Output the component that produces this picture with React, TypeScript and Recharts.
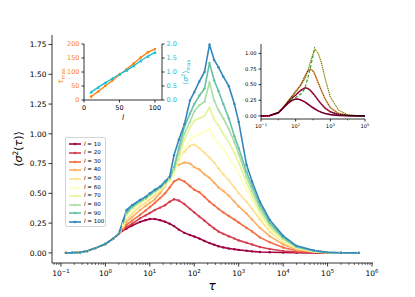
import { LineChart, Line, XAxis, YAxis, Legend } from "recharts";

const FONT = "'DejaVu Sans', sans-serif";

// main plot: <sigma^2(tau)> for each l
const tau = [0.13, 0.18, 0.27, 0.39, 0.6, 1, 1.5, 2, 2.5, 3, 4, 6, 8, 10, 13, 17, 22, 28, 35, 45, 60, 80, 100, 130, 170, 220, 280, 350, 450, 600, 800, 1000, 1500, 2000, 3000, 5000, 10000, 20000, 50000, 100000, 200000, 500000];

const sig10 = [0, 0.001, 0.004, 0.015, 0.04, 0.075, 0.12, 0.16, 0.19, 0.205, 0.23, 0.26, 0.275, 0.285, 0.284, 0.275, 0.262, 0.245, 0.225, 0.195, 0.168, 0.15, 0.137, 0.12, 0.1, 0.082, 0.068, 0.056, 0.046, 0.037, 0.03, 0.025, 0.018, 0.013, 0.008, 0.005, 0.003, 0.001, 0, 0, 0, 0];
const sig20 = [0, 0.001, 0.004, 0.015, 0.04, 0.075, 0.12, 0.16, 0.195, 0.215, 0.245, 0.29, 0.315, 0.335, 0.36, 0.38, 0.4, 0.43, 0.45, 0.44, 0.41, 0.37, 0.34, 0.305, 0.27, 0.235, 0.205, 0.18, 0.16, 0.14, 0.12, 0.105, 0.085, 0.07, 0.05, 0.032, 0.016, 0.006, 0.002, 0.001, 0, 0];
const sig30 = [0, 0.001, 0.004, 0.015, 0.04, 0.075, 0.12, 0.16, 0.2, 0.235, 0.27, 0.32, 0.355, 0.385, 0.42, 0.46, 0.5, 0.55, 0.6, 0.62, 0.6, 0.56, 0.53, 0.51, 0.47, 0.43, 0.4, 0.37, 0.34, 0.31, 0.28, 0.255, 0.21, 0.18, 0.13, 0.09, 0.045, 0.018, 0.005, 0.001, 0, 0];
const sig40 = [0, 0.001, 0.004, 0.015, 0.04, 0.075, 0.12, 0.16, 0.21, 0.26, 0.3, 0.36, 0.395, 0.42, 0.45, 0.5, 0.56, 0.63, 0.7, 0.74, 0.76, 0.75, 0.72, 0.7, 0.66, 0.63, 0.59, 0.55, 0.52, 0.48, 0.43, 0.39, 0.33, 0.28, 0.21, 0.14, 0.07, 0.028, 0.008, 0.002, 0.001, 0];
const sig50 = [0, 0.001, 0.004, 0.015, 0.04, 0.075, 0.12, 0.16, 0.22, 0.28, 0.33, 0.39, 0.42, 0.45, 0.48, 0.52, 0.56, 0.62, 0.7, 0.78, 0.85, 0.9, 0.91, 0.88, 0.84, 0.8, 0.76, 0.71, 0.66, 0.61, 0.55, 0.5, 0.43, 0.37, 0.28, 0.18, 0.09, 0.036, 0.01, 0.002, 0.001, 0];
const sig60 = [0, 0.001, 0.004, 0.015, 0.04, 0.075, 0.12, 0.16, 0.23, 0.3, 0.355, 0.41, 0.44, 0.47, 0.5, 0.53, 0.57, 0.6, 0.66, 0.76, 0.88, 0.95, 0.98, 1.0, 1.02, 1.04, 0.97, 0.92, 0.87, 0.8, 0.73, 0.67, 0.53, 0.44, 0.31, 0.195, 0.1, 0.04, 0.012, 0.003, 0.001, 0];
const sig70 = [0, 0.001, 0.004, 0.015, 0.04, 0.075, 0.12, 0.16, 0.24, 0.32, 0.37, 0.42, 0.45, 0.48, 0.51, 0.54, 0.575, 0.61, 0.68, 0.8, 0.95, 1.05, 1.11, 1.13, 1.15, 1.22, 1.12, 1.07, 1.0, 0.93, 0.84, 0.76, 0.59, 0.48, 0.34, 0.215, 0.11, 0.044, 0.013, 0.003, 0.001, 0];
const sig80 = [0, 0.001, 0.004, 0.015, 0.04, 0.075, 0.12, 0.16, 0.25, 0.33, 0.38, 0.43, 0.455, 0.485, 0.515, 0.545, 0.58, 0.62, 0.7, 0.84, 1.0, 1.1, 1.19, 1.24, 1.27, 1.43, 1.28, 1.2, 1.13, 1.04, 0.93, 0.83, 0.64, 0.52, 0.37, 0.235, 0.12, 0.048, 0.015, 0.003, 0.001, 0];
const sig90 = [0, 0.001, 0.004, 0.015, 0.04, 0.075, 0.12, 0.16, 0.26, 0.34, 0.39, 0.435, 0.46, 0.49, 0.52, 0.55, 0.59, 0.63, 0.72, 0.88, 1.06, 1.17, 1.25, 1.32, 1.38, 1.595, 1.45, 1.36, 1.25, 1.13, 0.98, 0.88, 0.68, 0.56, 0.4, 0.255, 0.13, 0.052, 0.017, 0.004, 0.001, 0];
const sig100 = [0, 0.001, 0.004, 0.015, 0.04, 0.075, 0.12, 0.16, 0.27, 0.36, 0.4, 0.445, 0.47, 0.5, 0.53, 0.557, 0.6, 0.64, 0.82, 0.95, 1.08, 1.28, 1.35, 1.44, 1.52, 1.75, 1.62, 1.56, 1.48, 1.4, 1.25, 1.1, 0.74, 0.6, 0.43, 0.277, 0.143, 0.059, 0.02, 0.004, 0.001, 0];

const lengths = [10, 20, 30, 40, 50, 60, 70, 80, 90, 100];
const colors = ["#9e0142", "#d53e4f", "#f46d43", "#fdae61", "#fee08b", "#ffffbf", "#e6f598", "#abdda4", "#66c2a5", "#3288bd"];
const allSeries = [sig10, sig20, sig30, sig40, sig50, sig60, sig70, sig80, sig90, sig100];

const mainYTicks = [0, 0.25, 0.5, 0.75, 1.0, 1.25, 1.5, 1.75];
const mainDecades = [0.1, 1, 10, 100, 1e3, 1e4, 1e5, 1e6];

// inset 1: tau_max and <sigma^2>_max against l
const tauMax = [12, 30, 50, 70, 90, 110, 130, 152, 170, 182];
const sigMax = [0.28, 0.45, 0.61, 0.77, 0.92, 1.06, 1.22, 1.4, 1.56, 1.7];
const tauMaxTicks = [0, 50, 100, 150, 200];
const sigMaxTicks = [0, 0.5, 1, 1.5, 2];
const lTicks = [0, 50, 100];

// inset 2: smooth curves with fits
const fitTau = [0.1, 0.3, 1, 2, 3, 5, 7, 10, 15, 20, 35, 50, 70, 100, 130, 200, 300, 500, 1000, 3000, 10000, 30000, 100000];
const fit10 = [0, 0.003, 0.05, 0.13, 0.18, 0.23, 0.255, 0.27, 0.265, 0.255, 0.22, 0.19, 0.16, 0.13, 0.11, 0.08, 0.058, 0.038, 0.02, 0.007, 0.002, 0.0005, 0];
const fit20 = [0, 0.003, 0.05, 0.135, 0.19, 0.26, 0.3, 0.33, 0.38, 0.41, 0.45, 0.44, 0.41, 0.36, 0.32, 0.25, 0.19, 0.125, 0.065, 0.02, 0.005, 0.001, 0];
const fit40 = [0, 0.003, 0.055, 0.14, 0.2, 0.28, 0.33, 0.38, 0.45, 0.5, 0.64, 0.72, 0.75, 0.72, 0.66, 0.53, 0.41, 0.27, 0.13, 0.04, 0.01, 0.002, 0];
const fit60 = [0, 0.003, 0.055, 0.14, 0.21, 0.29, 0.34, 0.4, 0.45, 0.49, 0.6, 0.72, 0.86, 0.99, 1.07, 1.0, 0.86, 0.6, 0.3, 0.09, 0.02, 0.005, 0.001];
const peakTau = [5, 10, 20, 33, 50, 75, 100, 125];
const peakVal = [0.26, 0.29, 0.35, 0.43, 0.6, 0.8, 0.96, 1.1];
const insetDecades = [0.1, 1, 10, 100, 1e3, 1e4, 1e5];
const insetLabelled = [0.1, 10, 1e3, 1e5];
const insetYTicks = [0, 0.25, 0.5, 0.75, 1.0];

const X_MIN = 0.063;
const X_MAX = 1.05e6;

const minorTicks: number[] = [];
[0.01, ...mainDecades].forEach((d) => {
  for (let m = 2; m <= 9; m++) {
    const v = d * m;
    if (v >= X_MIN && v <= X_MAX) minorTicks.push(v);
  }
});
const mainXTicks = [...mainDecades, ...minorTicks].sort((a, b) => a - b);

const rows = tau.map((t, i) => {
  const row: Record<string, number> = { tau: t };
  lengths.forEach((l, k) => {
    row[`l${l}`] = allSeries[k][i];
  });
  return row;
});

const insetRows = lengths.map((l, i) => ({ l, tauMax: tauMax[i], sigMax: sigMax[i] }));

const fitRows = fitTau.map((t, i) => ({ tau: t, f10: fit10[i], f20: fit20[i], f40: fit40[i], f60: fit60[i] }));
const peakRows = peakTau.map((t, i) => ({ tau: t, peak: peakVal[i] }));

function LogXTick(props: any) {
  const { x, y, payload, fs, len, labelled } = props;
  const v = payload.value;
  const e = Math.round(Math.log10(v));
  const hasLabel = labelled.some((d: number) => Math.abs(d - v) / d < 1e-9);
  return (
    <g>
      <line x1={x} x2={x} y1={y} y2={y + (hasLabel ? len : len * 0.55)} stroke="#000" strokeWidth={hasLabel ? 0.8 : 0.6} />
      {hasLabel && (
        <text x={x} y={y + len + fs * 1.25} textAnchor="middle" fontFamily={FONT} fontSize={fs} fill="#000">
          10
          <tspan dy={-fs * 0.45} fontSize={fs * 0.72}>
            {e < 0 ? "\u2212" + -e : String(e)}
          </tspan>
        </text>
      )}
    </g>
  );
}

function NumYTick(props: any) {
  const { x, y, payload, fs, len, digits, side, color } = props;
  const dir = side === "right" ? 1 : -1;
  return (
    <g>
      <line x1={x} x2={x + dir * len} y1={y} y2={y} stroke="#000" strokeWidth={0.8} />
      <text x={x + dir * (len + 2)} y={y + fs * 0.36} textAnchor={side === "right" ? "start" : "end"} fontFamily={FONT} fontSize={fs} fill={color}>
        {payload.value.toFixed(digits)}
      </text>
    </g>
  );
}

function NumXTick(props: any) {
  const { x, y, payload, fs, len } = props;
  return (
    <g>
      <line x1={x} x2={x} y1={y} y2={y + len} stroke="#000" strokeWidth={0.8} />
      <text x={x} y={y + len + fs * 1.1} textAnchor="middle" fontFamily={FONT} fontSize={fs} fill="#000">
        {payload.value}
      </text>
    </g>
  );
}

function Triangle(props: any) {
  const { cx, cy, fill } = props;
  if (cx == null || cy == null) return null;
  const s = 1.8;
  return <polygon points={`${cx},${cy - s} ${cx - s},${cy + s * 0.8} ${cx + s},${cy + s * 0.8}`} fill={fill} />;
}

function LegendBox(props: any) {
  const items = [...(props.payload || [])].sort((a: any, b: any) => Number(a.value) - Number(b.value));
  return (
    <div
      style={{
        width: 41,
        height: 90,
        boxSizing: "border-box",
        border: "0.8px solid #d4d4d4",
        borderRadius: 2,
        background: "rgba(255,255,255,0.85)",
        padding: "2px 0 0 3px",
        fontFamily: FONT,
        fontSize: 5.5,
        lineHeight: 1,
        color: "#000",
      }}
    >
      {items.map((p: any) => (
        <div key={p.value} style={{ height: 8.65, display: "flex", alignItems: "center" }}>
          <svg width={12} height={4} style={{ display: "block" }}>
            <line x1={0} x2={12} y1={2} y2={2} stroke={p.color} strokeWidth={1.6} />
            <circle cx={6} cy={2} r={1.3} fill={p.color} />
          </svg>
          <span style={{ marginLeft: 3, whiteSpace: "nowrap" }}>
            <i>l</i> = {p.value}
          </span>
        </div>
      ))}
    </div>
  );
}

const spine = { stroke: "#000", strokeWidth: 0.8 };

export default function App() {
  return (
    <div style={{ position: "relative", width: 415, height: 297, background: "#fff" }}>
      <style>{`body{margin:0;}`}</style>
      <LineChart width={415} height={297} data={rows} margin={{ top: 35, right: 42, bottom: 0, left: 0 }}>
        <XAxis
          dataKey="tau"
          type="number"
          scale="log"
          domain={[X_MIN, X_MAX]}
          allowDataOverflow
          ticks={mainXTicks}
          interval={0}
          tickSize={0}
          tickMargin={0}
          tickLine={false}
          height={34}
          axisLine={spine}
          tick={(p: any) => <LogXTick {...p} fs={7.5} len={3.5} labelled={mainDecades} />}
        />
        <XAxis xAxisId="top" orientation="top" dataKey="tau" type="number" scale="log" domain={[X_MIN, X_MAX]} allowDataOverflow height={0} tick={false} tickLine={false} axisLine={spine} />
        <YAxis
          type="number"
          domain={[-0.085, 1.83]}
          allowDataOverflow
          ticks={mainYTicks}
          interval={0}
          tickSize={0}
          tickMargin={0}
          tickLine={false}
          width={52}
          axisLine={spine}
          tick={(p: any) => <NumYTick {...p} fs={7.5} len={3.5} digits={2} side="left" color="#000" />}
        />
        <YAxis yAxisId="right" orientation="right" type="number" domain={[0, 1]} width={0} tick={false} tickLine={false} axisLine={spine} />
        {lengths.map((l, k) => (
          <Line
            key={l}
            dataKey={`l${l}`}
            name={String(l)}
            stroke={colors[k]}
            strokeWidth={1.6}
            dot={{ r: 1.2, fill: colors[k], stroke: "none" }}
            isAnimationActive={false}
          />
        ))}
        <Legend layout="vertical" align="center" verticalAlign="middle" wrapperStyle={{ left: 65, top: 137, width: 41, height: 90 }} content={(p: any) => <LegendBox {...p} />} />
      </LineChart>

      <div style={{ position: "absolute", left: 40, top: 30 }}>
        <LineChart width={170} height={100} data={insetRows} margin={{ top: 14, right: 20, bottom: 8, left: 16 }}>
          <XAxis
            dataKey="l"
            type="number"
            domain={[0, 110]}
            ticks={lTicks}
            interval={0}
            tickSize={0}
            tickMargin={0}
            tickLine={false}
            height={22}
            axisLine={spine}
            tick={(p: any) => <NumXTick {...p} fs={6.5} len={2.5} />}
          />
          <XAxis xAxisId="top" orientation="top" dataKey="l" type="number" domain={[0, 110]} height={0} tick={false} tickLine={false} axisLine={spine} />
          <YAxis
            yAxisId="tau"
            type="number"
            domain={[0, 200]}
            ticks={tauMaxTicks}
            interval={0}
            tickSize={0}
            tickMargin={0}
            tickLine={false}
            width={28}
            axisLine={spine}
            tick={(p: any) => <NumYTick {...p} fs={6.5} len={2.5} digits={0} side="left" color="#ff7f0e" />}
          />
          <YAxis
            yAxisId="sig"
            orientation="right"
            type="number"
            domain={[0, 2]}
            ticks={sigMaxTicks}
            interval={0}
            tickSize={0}
            tickMargin={0}
            tickLine={false}
            width={28}
            axisLine={spine}
            tick={(p: any) => <NumYTick {...p} fs={6.5} len={2.5} digits={1} side="right" color="#17becf" />}
          />
          <Line yAxisId="tau" dataKey="tauMax" stroke="#ff7f0e" strokeWidth={1.3} dot={{ r: 1.3, fill: "#ff7f0e", stroke: "none" }} isAnimationActive={false} />
          <Line yAxisId="sig" dataKey="sigMax" stroke="#17becf" strokeWidth={1.3} dot={(p: any) => <Triangle key={p.index} {...p} fill="#17becf" />} isAnimationActive={false} />
        </LineChart>
      </div>

      <div style={{ position: "absolute", left: 230, top: 30 }}>
        <LineChart width={150} height={105} data={fitRows} margin={{ top: 14, right: 15, bottom: 2, left: 0 }}>
          <XAxis
            dataKey="tau"
            type="number"
            scale="log"
            domain={[0.1, 1e5]}
            allowDataOverflow
            ticks={insetDecades}
            interval={0}
            tickSize={0}
            tickMargin={0}
            tickLine={false}
            height={14}
            axisLine={spine}
            tick={(p: any) => <LogXTick {...p} fs={5.2} len={2.5} labelled={insetLabelled} />}
          />
          <XAxis xAxisId="top" orientation="top" dataKey="tau" type="number" scale="log" domain={[0.1, 1e5]} allowDataOverflow height={0} tick={false} tickLine={false} axisLine={spine} />
          <YAxis
            type="number"
            domain={[-0.05, 1.15]}
            allowDataOverflow
            ticks={insetYTicks}
            interval={0}
            tickSize={0}
            tickMargin={0}
            tickLine={false}
            width={31}
            axisLine={spine}
            tick={(p: any) => <NumYTick {...p} fs={5.2} len={2.5} digits={2} side="left" color="#000" />}
          />
          <YAxis yAxisId="right" orientation="right" type="number" domain={[0, 1]} width={0} tick={false} tickLine={false} axisLine={spine} />
          <Line dataKey="f60" stroke="#f7f3a0" strokeWidth={1.6} dot={false} isAnimationActive={false} />
          <Line dataKey="f40" stroke="#fdae61" strokeWidth={1.6} dot={false} isAnimationActive={false} />
          <Line dataKey="f20" stroke="#b8184a" strokeWidth={1.6} dot={false} isAnimationActive={false} />
          <Line dataKey="f10" stroke="#9e0142" strokeWidth={1.6} dot={false} isAnimationActive={false} />
          <Line dataKey="f60" stroke="#000" strokeWidth={0.7} strokeDasharray="1 1" dot={false} isAnimationActive={false} />
          <Line dataKey="f40" stroke="#000" strokeWidth={0.7} strokeDasharray="1 1" dot={false} isAnimationActive={false} />
          <Line dataKey="f20" stroke="#000" strokeWidth={0.7} strokeDasharray="1 1" dot={false} isAnimationActive={false} />
          <Line dataKey="f10" stroke="#000" strokeWidth={0.7} strokeDasharray="1 1" dot={false} isAnimationActive={false} />
          <Line data={peakRows} dataKey="peak" stroke="#2ca02c" strokeWidth={1.2} strokeDasharray="3 2" dot={false} isAnimationActive={false} />
        </LineChart>
      </div>

      <svg width={415} height={297} style={{ position: "absolute", left: 0, top: 0, pointerEvents: "none" }} fontFamily={FONT}>
        <text transform="translate(22,149) rotate(-90)" textAnchor="middle" fontSize={11} fill="#000">
          {"\u27E8"}
          <tspan fontStyle="italic">σ</tspan>
          <tspan dy={-4} fontSize={7.5}>2</tspan>
          <tspan dy={4}>(</tspan>
          <tspan fontStyle="italic">τ</tspan>
          <tspan>){"\u27E9"}</tspan>
        </text>
        <text x={212} y={290} textAnchor="middle" fontSize={12} fontStyle="italic" fill="#000">
          τ
        </text>
        <text transform="translate(63,76) rotate(-90)" textAnchor="middle" fontSize={7.5} fill="#ff7f0e">
          <tspan fontStyle="italic">τ</tspan>
          <tspan dy={1.8} fontSize={5.2}>max</tspan>
        </text>
        <text transform="translate(188,72) rotate(-90)" textAnchor="middle" fontSize={7.5} fill="#17becf">
          {"\u27E8"}
          <tspan fontStyle="italic">σ</tspan>
          <tspan dy={-3} fontSize={5.2}>2</tspan>
          <tspan dy={3}>{"\u27E9"}</tspan>
          <tspan dy={1.8} fontSize={5.2}>max</tspan>
        </text>
        <text x={123} y={120} textAnchor="middle" fontSize={7.5} fontStyle="italic" fill="#000">
          l
        </text>
      </svg>
    </div>
  );
}
